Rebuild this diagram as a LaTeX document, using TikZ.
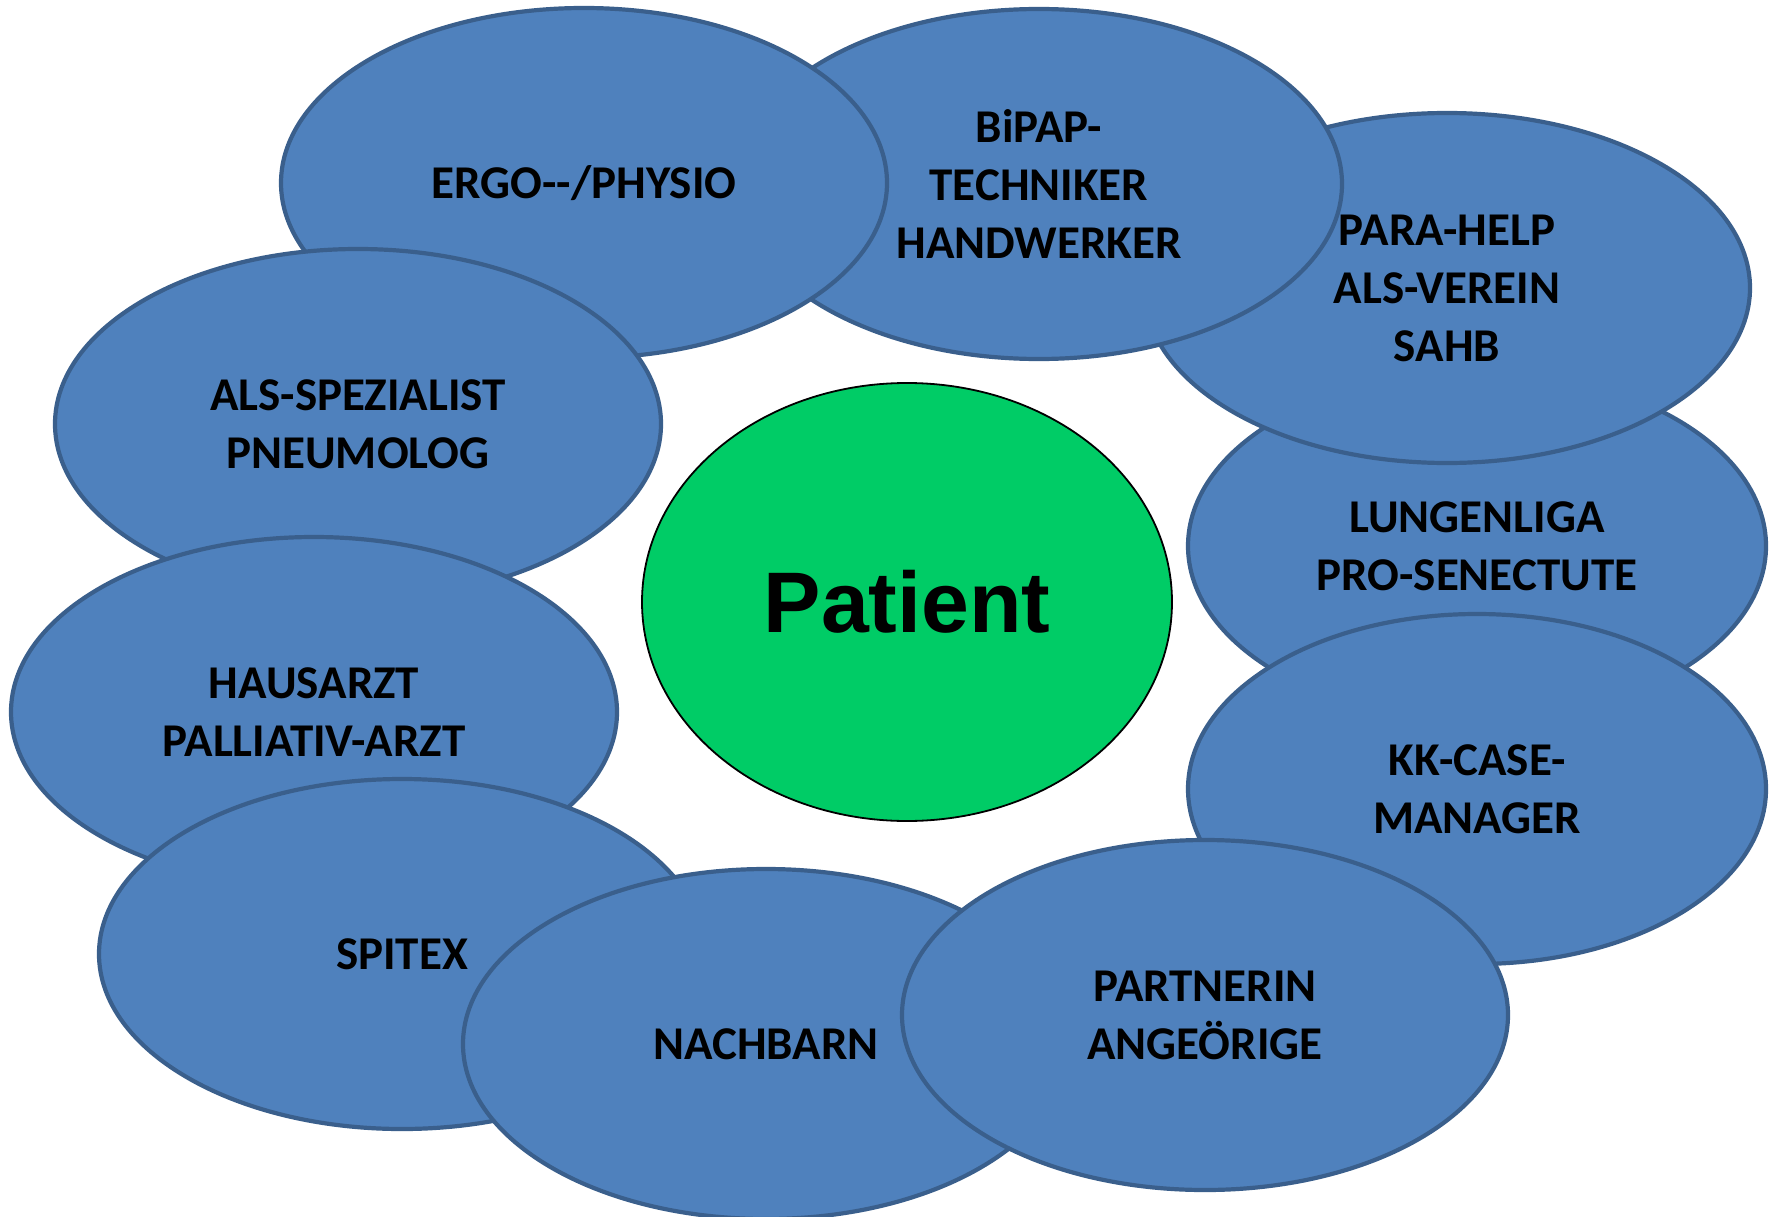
\documentclass[tikz,border=0pt]{standalone}
\usepackage{fontspec}
\setmainfont{Carlito}
\newfontfamily\patientfont{Liberation Sans}
\usetikzlibrary{shapes.geometric}

\definecolor{bubblefill}{HTML}{4F81BD}
\definecolor{bubbleline}{HTML}{3A5F8C}
\definecolor{patientgreen}{HTML}{00CC66}

\tikzset{
  bubble/.style={ellipse, draw=bubbleline, line width=4.2pt, fill=bubblefill,
    minimum width=606pt, minimum height=350pt, inner sep=0pt, align=center,
    font=\bfseries\fontsize{47}{58}\selectfont},
  narrow/.style={minimum width=578pt},
  patient/.style={ellipse, draw=black, line width=1.8pt, fill=patientgreen,
    minimum width=530pt, minimum height=438pt, inner sep=0pt,
    font=\patientfont\bfseries\fontsize{86}{90}\selectfont}
}

\begin{document}
\begin{tikzpicture}[x=1pt,y=-1pt]
\useasboundingbox (0,0) rectangle (1777,1217);
% back row first, later ellipses lie on top
\node[bubble,narrow] (lungenliga) at (1477,546) {LUNGENLIGA\\PRO-SENECTUTE};
\node[bubble,narrow] (kkcase) at (1477,789) {KK-CASE-\\MANAGER};
\node[bubble] (parahelp) at (1447,288) {PARA-HELP\\ALS-VEREIN\\SAHB};
\node[bubble] (bipap) at (1039,184) {BiPAP-\\TECHNIKER\\HANDWERKER};
\node[bubble] (ergo) at (584,183) {ERGO-\kern0pt-/PHYSIO};
\node[bubble] (spezialist) at (358,424) {ALS-SPEZIALIST\\PNEUMOLOG};
\node[bubble] (hausarzt) at (314,712) {HAUSARZT\\PALLIATIV-ARZT};
\node[bubble] (spitex) at (402,954) {SPITEX};
\node[bubble] (nachbarn) at (766,1044) {NACHBARN};
\node[bubble] (partnerin) at (1205,1015) {PARTNERIN\\ANGE\"ORIGE};
% the patient in the middle
\node[patient] (patient) at (907,602) {Patient};
\end{tikzpicture}
\end{document}
